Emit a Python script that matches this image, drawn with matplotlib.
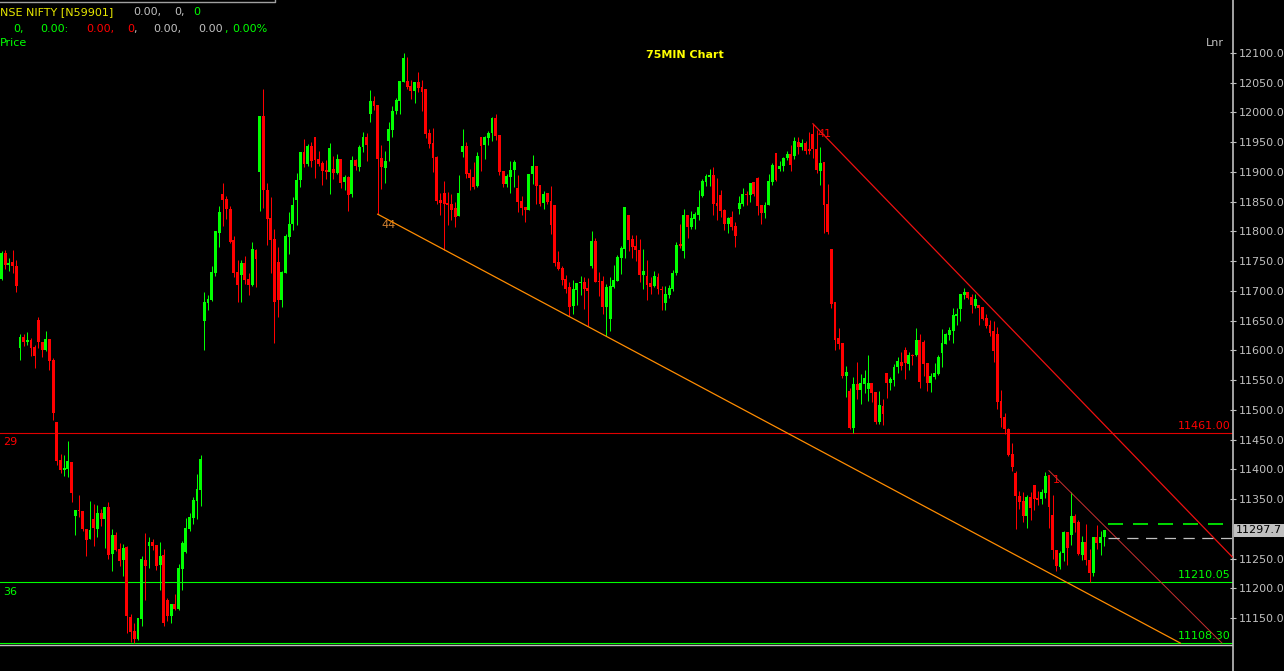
import numpy as np
import matplotlib.pyplot as plt
from matplotlib.transforms import blended_transform_factory

# NSE NIFTY, 75 minute candles
opens = [
    11720, 11764, 11744, 11749, 11742, 11604, 11623, 11614, 11618, 11606,
    11651, 11614, 11601, 11619, 11584, 11480, 11416, 11399, 11401, 11413,
    11322, 11332, 11331, 11300, 11283, 11317, 11300, 11327, 11317, 11337,
    11258, 11290, 11267, 11248, 11270, 11152, 11129, 11115, 11149, 11248,
    11272, 11278, 11273, 11240, 11257, 11181, 11154, 11174, 11166, 11233,
    11262, 11300, 11319, 11347, 11366, 11650, 11680, 11685, 11730, 11798,
    11863, 11855, 11838, 11786, 11732, 11727, 11747, 11720, 11710, 11769,
    11900, 11994, 11870, 11823, 11787, 11749, 11685, 11730, 11791, 11813,
    11853, 11887, 11934, 11913, 11944, 11959, 11922, 11915, 11903, 11900,
    11905, 11898, 11922, 11883, 11892, 11863, 11920, 11908, 11942, 11959,
    11997, 12019, 12013, 11924, 11907, 11952, 11971, 12003, 12019, 12051,
    12053, 12045, 12036, 12051, 12043, 12039, 11966, 11949, 11925, 11853,
    11865, 11848, 11846, 11840, 11826, 11934, 11944, 11898, 11892, 11876,
    11959, 11945, 11957, 11966, 11991, 11962, 11902, 11880, 11892, 11903,
    11873, 11851, 11841, 11836, 11897, 11910, 11878, 11848, 11865, 11851,
    11845, 11749, 11739, 11720, 11707, 11675, 11702, 11714, 11715, 11705,
    11742, 11784, 11717, 11717, 11673, 11653, 11707, 11717, 11756, 11771,
    11828, 11787, 11776, 11769, 11727, 11725, 11714, 11709, 11724, 11703,
    11680, 11693, 11703, 11730, 11779, 11767, 11828, 11808, 11821, 11828,
    11860, 11883, 11892, 11895, 11848, 11861, 11836, 11813, 11824, 11809,
    11838, 11846, 11863, 11861, 11883, 11890, 11845, 11831, 11845, 11883,
    11932, 11905, 11910, 11924, 11930, 11927, 11950, 11942, 11949, 11939,
    11964, 11939, 11902, 11917, 11846, 11771, 11682, 11621, 11613, 11557,
    11532, 11470, 11544, 11534, 11544, 11535, 11546, 11530, 11480, 11507,
    11562, 11546, 11551, 11572, 11581, 11601, 11577, 11593, 11593, 11618,
    11614, 11579, 11546, 11556, 11561, 11596, 11611, 11626, 11633, 11658,
    11670, 11693, 11698, 11690, 11675, 11677, 11673, 11655, 11643, 11633,
    11628, 11515, 11488, 11468, 11426, 11394, 11356, 11347, 11322, 11354,
    11374, 11352, 11351, 11361, 11391, 11324, 11265, 11236, 11260, 11295,
    11290, 11322, 11312, 11257, 11278, 11248, 11226, 11287, 11277, 11287,
]
highs = [
    11767, 11769, 11756, 11769, 11752, 11628, 11628, 11631, 11621, 11609,
    11656, 11614, 11633, 11619, 11588, 11480, 11426, 11425, 11448, 11413,
    11332, 11357, 11331, 11300, 11347, 11342, 11341, 11334, 11337, 11346,
    11300, 11295, 11277, 11275, 11272, 11157, 11142, 11151, 11255, 11294,
    11287, 11283, 11273, 11278, 11267, 11184, 11174, 11191, 11241, 11280,
    11319, 11327, 11354, 11393, 11425, 11698, 11693, 11742, 11801, 11843,
    11882, 11860, 11843, 11793, 11752, 11752, 11759, 11730, 11782, 11771,
    11994, 12039, 11882, 11858, 11804, 11774, 11734, 11796, 11833, 11858,
    11898, 11934, 11955, 11947, 11950, 11959, 11935, 11919, 11920, 11949,
    11927, 11930, 11922, 11895, 11893, 11927, 11922, 11945, 11967, 11966,
    12038, 12028, 12013, 11945, 11935, 11984, 12011, 12024, 12053, 12100,
    12093, 12055, 12051, 12068, 12055, 12039, 11972, 11974, 11927, 11865,
    11885, 11866, 11863, 11850, 11895, 11972, 11950, 11905, 11917, 11934,
    11959, 11961, 11969, 11992, 11997, 11962, 11902, 11897, 11919, 11920,
    11895, 11860, 11841, 11897, 11929, 11910, 11878, 11868, 11865, 11876,
    11845, 11767, 11742, 11727, 11715, 11719, 11714, 11725, 11724, 11722,
    11801, 11789, 11732, 11725, 11712, 11724, 11744, 11761, 11776, 11841,
    11828, 11794, 11794, 11787, 11771, 11752, 11724, 11734, 11730, 11709,
    11709, 11710, 11735, 11782, 11813, 11838, 11828, 11835, 11833, 11870,
    11888, 11897, 11905, 11908, 11890, 11870, 11838, 11824, 11835, 11816,
    11860, 11873, 11868, 11882, 11883, 11892, 11845, 11850, 11897, 11915,
    11932, 11919, 11925, 11935, 11945, 11959, 11959, 11955, 11952, 11967,
    11981, 11971, 11942, 11917, 11880, 11771, 11682, 11638, 11613, 11574,
    11537, 11556, 11581, 11561, 11567, 11593, 11546, 11530, 11532, 11519,
    11562, 11556, 11577, 11589, 11598, 11606, 11598, 11594, 11638, 11628,
    11618, 11579, 11562, 11579, 11593, 11636, 11630, 11640, 11672, 11672,
    11695, 11705, 11698, 11695, 11695, 11677, 11673, 11661, 11651, 11650,
    11640, 11534, 11495, 11470, 11445, 11398, 11364, 11362, 11357, 11362,
    11374, 11364, 11367, 11396, 11391, 11357, 11265, 11263, 11297, 11295,
    11362, 11325, 11315, 11289, 11309, 11267, 11287, 11307, 11297, 11299,
]
lows = [
    11719, 11737, 11734, 11730, 11698, 11584, 11608, 11609, 11591, 11571,
    11604, 11589, 11599, 11567, 11483, 11408, 11394, 11389, 11388, 11346,
    11290, 11320, 11297, 11255, 11283, 11272, 11287, 11305, 11268, 11250,
    11230, 11263, 11238, 11221, 11126, 11110, 11109, 11114, 11137, 11181,
    11235, 11265, 11231, 11198, 11137, 11146, 11142, 11163, 11164, 11198,
    11260, 11297, 11309, 11317, 11339, 11601, 11668, 11683, 11725, 11774,
    11809, 11821, 11781, 11724, 11682, 11682, 11712, 11693, 11709, 11707,
    11835, 11840, 11777, 11730, 11613, 11656, 11673, 11730, 11762, 11803,
    11811, 11875, 11908, 11910, 11908, 11890, 11910, 11878, 11888, 11863,
    11888, 11897, 11873, 11870, 11835, 11858, 11903, 11902, 11934, 11919,
    11984, 12004, 11829, 11871, 11882, 11919, 11959, 11997, 11997, 12051,
    12039, 12023, 12016, 12034, 12003, 11957, 11940, 11900, 11846, 11828,
    11769, 11811, 11819, 11808, 11826, 11925, 11890, 11870, 11871, 11875,
    11902, 11922, 11945, 11952, 11954, 11895, 11875, 11875, 11865, 11875,
    11833, 11828, 11816, 11836, 11880, 11846, 11843, 11838, 11846, 11796,
    11742, 11735, 11710, 11697, 11658, 11661, 11677, 11693, 11670, 11641,
    11739, 11715, 11692, 11661, 11625, 11633, 11705, 11717, 11729, 11756,
    11767, 11756, 11751, 11715, 11703, 11685, 11695, 11707, 11695, 11668,
    11668, 11688, 11700, 11727, 11772, 11756, 11789, 11804, 11804, 11819,
    11858, 11876, 11876, 11828, 11819, 11824, 11803, 11798, 11803, 11774,
    11829, 11843, 11845, 11850, 11860, 11828, 11813, 11823, 11845, 11878,
    11885, 11902, 11902, 11920, 11902, 11922, 11930, 11937, 11930, 11930,
    11924, 11898, 11878, 11798, 11796, 11672, 11601, 11603, 11554, 11522,
    11468, 11462, 11519, 11510, 11529, 11515, 11514, 11477, 11477, 11475,
    11520, 11534, 11541, 11562, 11567, 11552, 11567, 11576, 11591, 11537,
    11557, 11532, 11530, 11552, 11559, 11572, 11611, 11618, 11613, 11643,
    11650, 11687, 11687, 11663, 11672, 11643, 11651, 11638, 11625, 11581,
    11502, 11472, 11460, 11423, 11398, 11300, 11334, 11312, 11302, 11315,
    11332, 11341, 11342, 11352, 11302, 11250, 11230, 11233, 11247, 11240,
    11273, 11295, 11257, 11248, 11240, 11211, 11221, 11267, 11257, 11272,
]
closes = [
    11764, 11744, 11747, 11742, 11709, 11623, 11614, 11618, 11604, 11591,
    11614, 11601, 11619, 11583, 11495, 11415, 11399, 11403, 11415, 11361,
    11332, 11331, 11300, 11282, 11299, 11302, 11327, 11317, 11337, 11257,
    11290, 11265, 11247, 11268, 11154, 11127, 11115, 11151, 11250, 11238,
    11278, 11272, 11238, 11255, 11142, 11154, 11174, 11166, 11235, 11277,
    11302, 11320, 11349, 11367, 11418, 11682, 11687, 11732, 11801, 11833,
    11853, 11838, 11782, 11730, 11710, 11747, 11719, 11710, 11771, 11754,
    11994, 11870, 11821, 11786, 11682, 11685, 11732, 11793, 11813, 11845,
    11887, 11934, 11913, 11944, 11919, 11920, 11913, 11902, 11900, 11940,
    11898, 11922, 11882, 11892, 11861, 11920, 11910, 11942, 11959, 11945,
    12019, 12011, 11922, 11908, 11919, 11972, 12003, 12021, 12053, 12092,
    12043, 12036, 12051, 12041, 12034, 11964, 11947, 11924, 11851, 11848,
    11846, 11845, 11836, 11824, 11865, 11944, 11897, 11890, 11875, 11927,
    11944, 11959, 11966, 11991, 11961, 11900, 11880, 11893, 11903, 11917,
    11850, 11840, 11836, 11897, 11910, 11876, 11846, 11863, 11850, 11811,
    11747, 11737, 11719, 11703, 11673, 11703, 11714, 11715, 11703, 11700,
    11784, 11715, 11715, 11673, 11707, 11709, 11719, 11757, 11772, 11841,
    11786, 11774, 11769, 11727, 11734, 11710, 11707, 11725, 11703, 11702,
    11695, 11705, 11730, 11777, 11776, 11828, 11808, 11823, 11829, 11841,
    11885, 11893, 11895, 11846, 11843, 11835, 11813, 11823, 11808, 11793,
    11848, 11863, 11861, 11882, 11863, 11843, 11831, 11845, 11885, 11912,
    11887, 11910, 11924, 11930, 11912, 11952, 11942, 11949, 11935, 11935,
    11939, 11903, 11915, 11845, 11799, 11678, 11618, 11611, 11557, 11564,
    11470, 11544, 11534, 11546, 11554, 11546, 11529, 11480, 11509, 11493,
    11546, 11552, 11572, 11583, 11574, 11579, 11593, 11591, 11618, 11547,
    11577, 11546, 11557, 11562, 11589, 11613, 11628, 11635, 11660, 11661,
    11695, 11698, 11688, 11677, 11687, 11672, 11653, 11641, 11630, 11599,
    11514, 11487, 11468, 11425, 11404, 11356, 11346, 11322, 11354, 11336,
    11351, 11349, 11362, 11389, 11337, 11265, 11238, 11260, 11295, 11268,
    11322, 11310, 11258, 11278, 11248, 11226, 11287, 11277, 11287, 11299,
]

price_ticks = [11150, 11200, 11250, 11350, 11400, 11450, 11500, 11550, 11600,
               11650, 11700, 11750, 11800, 11850, 11900, 11950, 12000, 12050, 12100]

level_29 = 11461.00
level_36 = 11210.05
level_low = 11108.30
last_price = 11297.7
green_dash = 11308
grey_dash = 11285

# trend lines: (candle index, price) end points
orange_x = [102, 319.6]
orange_y = [11829, 11108.3]
red_x = [220, 333.7]
red_y = [11981, 11253]
red2_x = [284, 330.9]
red2_y = [11398, 11108.3]

GREEN = "#00ff00"
RED = "#ff0000"
GREY = "#c0c0c0"
YELLOW = "#ffff00"
ORANGE = "#ff8c00"

fig = plt.figure(figsize=(12.84, 6.71), dpi=100, facecolor="black")
ax = fig.add_axes([0, 0, 1233 / 1284, 1])
ax.set_facecolor("black")

o = np.array(opens)
h = np.array(highs)
l = np.array(lows)
c = np.array(closes)
idx = np.arange(len(c))
cols = np.where(c >= o, GREEN, RED)

# candles
ax.vlines(idx, l, h, colors=cols, linewidth=0.72, zorder=3)
ax.bar(idx, np.maximum(np.abs(c - o), 1.7), bottom=np.minimum(o, c),
       width=0.78, color=cols, linewidth=0, zorder=4)

# horizontal levels
ax.axhline(level_29, color="#e00000", linewidth=0.8, zorder=2)
ax.axhline(level_36, color=GREEN, linewidth=0.8, zorder=2)
ax.axhline(level_low, color=GREEN, linewidth=0.8, zorder=2)
ax.axhline(11104.6, color=GREY, linewidth=1.0, zorder=2)

# trend lines
ax.plot(orange_x, orange_y, color=ORANGE, linewidth=0.9, zorder=5)
ax.plot(red_x, red_y, color="#ee1010", linewidth=0.9, zorder=5)
ax.plot(red2_x, red2_y, color="#c83030", linewidth=0.7, zorder=5)

# dashed last-price lines
ax.plot([300, 334], [green_dash, green_dash], color=GREEN, linewidth=1.2,
        dashes=(9, 6), zorder=5)
ax.plot([300, 334], [grey_dash, grey_dash], color=GREY, linewidth=0.9,
        dashes=(9, 6), zorder=5)

ax.set_xlim(-0.41, 333.9)
ax.set_ylim(11061.3, 12189)

# right price axis
ax.yaxis.tick_right()
ax.set_yticks(price_ticks)
ax.set_yticklabels([f"{t:.1f}" for t in price_ticks])
ax.tick_params(axis="y", colors=GREY, labelsize=8, direction="inout",
               length=4, width=0.8, pad=2)
ax.set_xticks([])
for s in ["top", "left", "bottom"]:
    ax.spines[s].set_visible(False)
ax.spines["right"].set_color(GREY)
ax.spines["right"].set_linewidth(1.2)

tr = blended_transform_factory(ax.transAxes, ax.transData)
ax.text(1.0024, last_price, "11297.7", transform=tr, color="black", fontsize=8,
        va="center", ha="left", clip_on=False, zorder=10,
        bbox=dict(boxstyle="square,pad=0.15", fc=GREY, ec="none"))

# level labels
ax.text(0.0025, 11446, "29", transform=tr, color=RED, fontsize=8, va="center")
ax.text(0.0025, 11194, "36", transform=tr, color=GREEN, fontsize=8, va="center")
ax.text(0.9984, 11473, "11461.00", transform=tr, color=RED, fontsize=8,
        va="center", ha="right")
ax.text(0.9984, 11223, "11210.05", transform=tr, color=GREEN, fontsize=8,
        va="center", ha="right")
ax.text(0.9984, 11120, "11108.30", transform=tr, color=GREEN, fontsize=8,
        va="center", ha="right")

# trend line labels
ax.text(102.9, 11811, "44", color="#d08030", fontsize=8, va="center")
ax.text(221.1, 11963, "41", color=RED, fontsize=8, va="center")
ax.text(285.1, 11382, "1", color=RED, fontsize=8, va="center")


def ftext(x, y, s, color, **kw):
    fig.text(x / 1284, 1 - y / 671, s, color=color, fontsize=8, va="center", **kw)


# header
ftext(0, 12, "NSE NIFTY [N59901]", "#e8e800")
ftext(133, 12, "0.00,", GREY)
ftext(174, 12, "0,", GREY)
ftext(193, 12, "0", GREEN)
ftext(13, 29, "0,", GREEN)
ftext(40, 29, "0.00:", GREEN)
ftext(86, 29, "0.00,", RED)
ftext(127, 29, "0", RED)
ftext(133, 29, ",", GREY)
ftext(153, 29, "0.00,", GREY)
ftext(198, 29, "0.00", GREY)
ftext(224, 29, ",", GREEN)
ftext(232, 29, "0.00%", GREEN)
ftext(0, 43, "Price", GREEN)
ftext(685, 55, "75MIN Chart", YELLOW, ha="center", fontweight="bold")
ftext(1215, 43, "Lnr", GREY, ha="center")

fig.add_artist(plt.Line2D([0, 275 / 1284, 275 / 1284], [1 - 1.5 / 671, 1 - 1.5 / 671, 1],
                          color="#a0a0a0", linewidth=1.0))

fig.savefig("out.png", dpi=100, facecolor="black")
